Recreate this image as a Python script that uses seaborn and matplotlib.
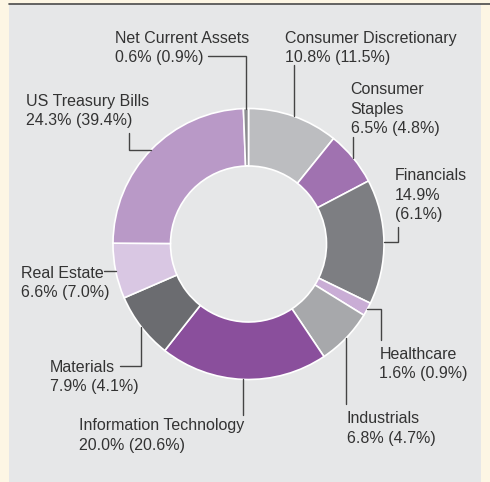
import numpy as np
import matplotlib
matplotlib.use("Agg")
import matplotlib.pyplot as plt
from matplotlib.patches import Rectangle
import seaborn as sns

# Portfolio weights (current) and prior period weights in brackets
sectors = ["Consumer Discretionary", "Consumer Staples", "Financials", "Healthcare",
           "Industrials", "Information Technology", "Materials", "Real Estate",
           "US Treasury Bills", "Net Current Assets"]
weights = [10.8, 6.5, 14.9, 1.6, 6.8, 20.0, 7.9, 6.6, 24.3, 0.6]
prior = [11.5, 4.8, 6.1, 0.9, 4.7, 20.6, 4.1, 7.0, 39.4, 0.9]
colors = ["#bcbdc0", "#a072b0", "#7d7e82", "#c9add5", "#a7a8ab",
          "#8a4f9c", "#6b6c70", "#d9c7e3", "#b999c7", "#8c8d90"]

W, H = 490, 482
sns.set_theme(style="white")
plt.rcParams["font.family"] = ["Liberation Sans", "DejaVu Sans"]

fig = plt.figure(figsize=(W / 100, H / 100), dpi=100)
fig.patch.set_facecolor("#fdf6e4")
ax = fig.add_axes([0, 0, 1, 1])

# grey panel + top rule
ax.add_patch(Rectangle((9, 0), 472, H - 4, facecolor="#e6e7e8", edgecolor="none", zorder=0))
ax.plot([9, W], [H - 3.5, H - 3.5], color="#4a4a4a", lw=1.2, zorder=1)

cx, cy = 248.5, H - 244
r_out, r_in = 135.5, 78
wedges, _ = ax.pie(weights, colors=colors, startangle=90, counterclock=False,
                   center=(cx, cy), radius=r_out, frame=True,
                   wedgeprops=dict(width=r_out - r_in, edgecolor="white", linewidth=1.2))
ax.set_xlim(0, W)
ax.set_ylim(0, H)
ax.axis("off")

# label layout: text left x, first line centre y (pixels from top), line breaks,
# leader route ('v' / 'h' first) and leader end point
layout = {
    "Net Current Assets":     dict(x=115, y=36.7, name_break=None, val_break=False, route="vh", end=(208, 55.5)),
    "Consumer Discretionary": dict(x=285, y=36.7, name_break=None, val_break=False, route="v", end=(None, 65)),
    "Consumer Staples":       dict(x=350.7, y=88.3, name_break=8, val_break=False, route="v", end=(None, 137)),
    "Financials":             dict(x=395, y=174, name_break=None, val_break=True, route="hv", end=(398, 227)),
    "Healthcare":             dict(x=379.3, y=352.7, name_break=None, val_break=False, route="hv", end=(381, 340)),
    "Industrials":            dict(x=346.7, y=417.3, name_break=None, val_break=False, route="v", end=(None, 404)),
    "Information Technology": dict(x=79.3, y=424.3, name_break=None, val_break=False, route="v", end=(None, 415)),
    "Materials":              dict(x=50, y=366, name_break=None, val_break=False, route="vh", end=(120, 366)),
    "Real Estate":            dict(x=21, y=271.7, name_break=None, val_break=False, route="h", end=(104, None)),
    "US Treasury Bills":      dict(x=25.7, y=100, name_break=None, val_break=False, route="hv", end=(129, 133)),
}

txt_color = "#333333"
line_color = "#444444"
pitch = 19.5

for wedge, name, w, p in zip(wedges, sectors, weights, prior):
    lay = layout[name]
    lines = [name] if lay["name_break"] is None else [name[:lay["name_break"]], name[lay["name_break"] + 1:]]
    if lay["val_break"]:
        lines += [f"{w:.1f}%", f"({p:.1f}%)"]
    else:
        lines += [f"{w:.1f}% ({p:.1f}%)"]
    for i, ln in enumerate(lines):
        ax.text(lay["x"], H - (lay["y"] + i * pitch), ln, ha="left", va="center_baseline",
                fontsize=11.5, color=txt_color, zorder=5)

    # leader from wedge mid-angle on the outer rim
    mid = np.deg2rad((wedge.theta1 + wedge.theta2) / 2)
    ax0, ay0 = cx + r_out * np.cos(mid), cy + r_out * np.sin(mid)
    ex, ey = lay["end"]
    ex = ax0 if ex is None else ex
    ey = ay0 if ey is None else H - ey
    if lay["route"] == "v":
        xs, ys = [ax0, ax0], [ay0, ey]
    elif lay["route"] == "h":
        xs, ys = [ax0, ex], [ay0, ay0]
    elif lay["route"] == "vh":
        xs, ys = [ax0, ax0, ex], [ay0, ey, ey]
    else:
        xs, ys = [ax0, ex, ex], [ay0, ay0, ey]
    ax.plot(xs, ys, color=line_color, lw=1.0, zorder=4, solid_joinstyle="miter")

fig.savefig("out.png", dpi=100, facecolor=fig.get_facecolor())
